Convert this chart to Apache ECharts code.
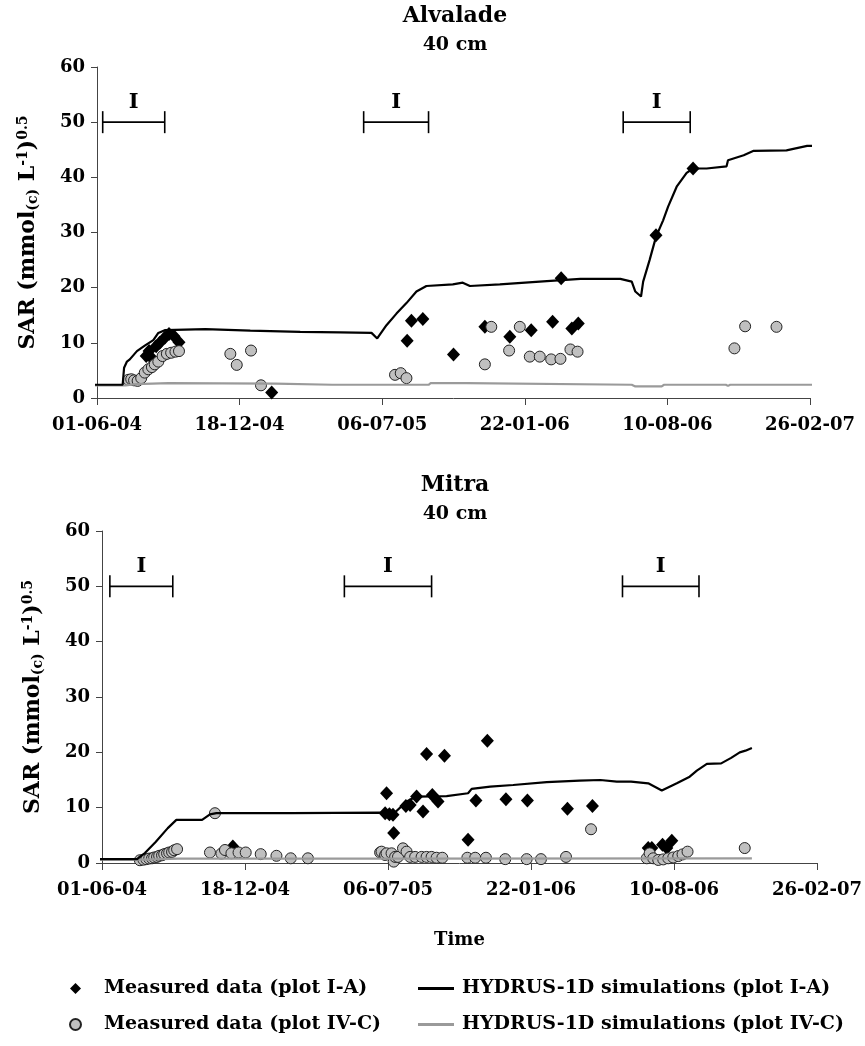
<!DOCTYPE html>
<html>
<head>
<meta charset="utf-8">
<script src="https://cdn.jsdelivr.net/npm/echarts@6/dist/echarts.min.js"></script>
<style>
  html, body { margin: 0; padding: 0; background: #fff; }
  #chart { width: 865px; height: 1046px; }
</style>
</head>
<body>
<div id="chart"></div>
<script>
// x ticks every 200 days starting on 01-06-04
var xTicks = { start: '2004-06-01', step: 200, count: 5 };
var yTicks = { min: 0, max: 60, step: 10 };

// ---- Alvalade, 40 cm ----
var alvSimA = [
  ['2004-05-22', 2.4], ['2004-07-07', 2.4], ['2004-07-09', 5.5], ['2004-07-13', 6.6], ['2004-07-17', 7.0],
  ['2004-07-27', 8.5], ['2004-08-07', 9.5], ['2004-08-19', 10.5], ['2004-08-26', 11.8], ['2004-09-04', 12.3],
  ['2004-10-31', 12.5], ['2005-01-02', 12.2], ['2005-03-13', 12.0], ['2005-05-08', 11.9], ['2005-06-21', 11.8],
  ['2005-06-29', 10.8], ['2005-07-12', 13.2], ['2005-07-26', 15.3], ['2005-08-09', 17.2], ['2005-08-23', 19.3],
  ['2005-09-06', 20.3], ['2005-10-13', 20.6], ['2005-10-27', 20.9], ['2005-11-06', 20.3], ['2005-12-18', 20.6],
  ['2006-02-22', 21.2], ['2006-04-10', 21.6], ['2006-06-05', 21.6], ['2006-06-21', 21.1], ['2006-06-26', 19.3],
  ['2006-07-04', 18.4], ['2006-07-07', 21.1], ['2006-07-16', 25.0], ['2006-07-25', 29.2], ['2006-08-04', 32.2],
  ['2006-08-11', 34.7], ['2006-08-23', 38.3], ['2006-09-06', 40.8], ['2006-09-15', 41.6], ['2006-10-04', 41.6],
  ['2006-11-01', 42.0], ['2006-11-03', 43.1], ['2006-11-25', 44.0], ['2006-12-09', 44.8], ['2007-01-24', 44.9],
  ['2007-02-22', 45.7], ['2007-03-08', 45.7]
];
var alvSimC = [
  ['2004-05-22', 2.3], ['2004-07-11', 2.3], ['2004-07-26', 2.5], ['2004-09-09', 2.7], ['2005-02-06', 2.6],
  ['2005-04-27', 2.4], ['2005-09-09', 2.4], ['2005-09-12', 2.7], ['2005-11-01', 2.7], ['2005-11-03', 2.4],
  ['2006-06-21', 2.4], ['2006-06-26', 2.1], ['2006-08-02', 2.1], ['2006-08-05', 2.4], ['2006-10-31', 2.4],
  ['2006-11-03', 2.2], ['2006-11-06', 2.4], ['2007-03-08', 2.4]
];
var alvMeasA = [
  ['2004-08-09', 7.6], ['2004-08-13', 8.5], ['2004-08-17', 7.2], ['2004-08-23', 9.4], ['2004-08-28', 10.0],
  ['2004-09-04', 10.9], ['2004-09-10', 11.6], ['2004-09-17', 11.2], ['2004-09-24', 10.1], ['2005-02-01', 1.0],
  ['2005-08-10', 10.4], ['2005-08-16', 14.0], ['2005-09-01', 14.3], ['2005-10-14', 7.9], ['2005-11-27', 12.9],
  ['2006-01-01', 11.1], ['2006-01-31', 12.3], ['2006-03-02', 13.8], ['2006-03-14', 21.7], ['2006-03-29', 12.6],
  ['2006-04-07', 13.5], ['2006-07-25', 29.5], ['2006-09-15', 41.6]
];
var alvMeasC = [
  ['2004-07-15', 3.3], ['2004-07-19', 3.4], ['2004-07-23', 3.2], ['2004-07-28', 3.1], ['2004-08-02', 3.6],
  ['2004-08-07', 4.6], ['2004-08-12', 5.2], ['2004-08-17', 5.6], ['2004-08-21', 6.1], ['2004-08-26', 6.6],
  ['2004-09-01', 7.6], ['2004-09-07', 8.0], ['2004-09-13', 8.2], ['2004-09-19', 8.4], ['2004-09-24', 8.5],
  ['2004-12-05', 8.0], ['2004-12-14', 6.0], ['2005-01-03', 8.6], ['2005-01-17', 2.3], ['2005-07-24', 4.2],
  ['2005-08-01', 4.5], ['2005-08-09', 3.6], ['2005-11-27', 6.1], ['2005-12-06', 12.9], ['2005-12-31', 8.6],
  ['2006-01-15', 12.9], ['2006-01-29', 7.5], ['2006-02-12', 7.5], ['2006-02-28', 7.0], ['2006-03-13', 7.1],
  ['2006-03-27', 8.8], ['2006-04-06', 8.4], ['2006-11-12', 9.0], ['2006-11-27', 13.0], ['2007-01-10', 12.9]
];
var alvIrrig = [['2004-06-09', '2004-09-04'], ['2005-06-10', '2005-09-09'], ['2006-06-09', '2006-09-11']];

// ---- Mitra, 40 cm ----
var mitSimA = [
  ['2004-05-12', 0.7], ['2004-07-20', 0.7], ['2004-07-31', 1.8], ['2004-08-15', 3.8], ['2004-09-01', 6.3],
  ['2004-09-13', 7.8], ['2004-10-19', 7.8], ['2004-10-30', 8.8], ['2004-11-08', 9.0], ['2005-02-21', 9.0],
  ['2005-06-25', 9.1], ['2005-07-13', 8.8], ['2005-08-01', 11.1], ['2005-08-15', 12.0], ['2005-09-26', 12.1],
  ['2005-10-26', 12.6], ['2005-10-31', 13.4], ['2005-11-26', 13.8], ['2005-12-28', 14.1], ['2006-02-13', 14.6],
  ['2006-03-31', 14.9], ['2006-04-29', 15.0], ['2006-05-22', 14.7], ['2006-06-11', 14.7], ['2006-07-05', 14.4],
  ['2006-07-24', 13.1], ['2006-08-14', 14.4], ['2006-09-01', 15.6], ['2006-09-11', 16.7], ['2006-09-25', 17.9],
  ['2006-10-15', 18.0], ['2006-10-29', 19.0], ['2006-11-10', 20.0], ['2006-11-18', 20.3], ['2006-11-27', 20.8]
];
var mitSimC = [
  ['2004-05-12', 0.6], ['2004-07-30', 0.6], ['2004-09-15', 0.8], ['2005-07-01', 0.8], ['2006-11-27', 0.85]
];
var mitMeasA = [
  ['2004-12-01', 3.0], ['2005-07-02', 9.0], ['2005-07-04', 12.6], ['2005-07-08', 8.8], ['2005-07-13', 8.7],
  ['2005-07-14', 5.4], ['2005-07-31', 10.3], ['2005-08-06', 10.5], ['2005-08-15', 12.0], ['2005-08-24', 9.3],
  ['2005-08-29', 19.7], ['2005-09-06', 12.3], ['2005-09-14', 11.1], ['2005-09-23', 19.4], ['2005-10-26', 4.2],
  ['2005-11-06', 11.3], ['2005-11-22', 22.1], ['2005-12-18', 11.5], ['2006-01-17', 11.3], ['2006-03-14', 9.8],
  ['2006-04-18', 10.3], ['2006-07-05', 2.7], ['2006-07-10', 2.7], ['2006-07-25', 3.3], ['2006-07-31', 2.7],
  ['2006-08-07', 4.0]
];
var mitMeasC = [
  ['2004-07-24', 0.5], ['2004-07-29', 0.6], ['2004-08-02', 0.7], ['2004-08-06', 0.8], ['2004-08-10', 0.85],
  ['2004-08-13', 1.0], ['2004-08-17', 1.1], ['2004-08-20', 1.3], ['2004-08-24', 1.4], ['2004-08-27', 1.6],
  ['2004-08-31', 1.75], ['2004-09-03', 1.9], ['2004-09-07', 2.0], ['2004-09-10', 2.3], ['2004-09-14', 2.5],
  ['2004-10-30', 1.9], ['2004-11-06', 9.0], ['2004-11-15', 1.7], ['2004-11-20', 2.35], ['2004-11-29', 1.75],
  ['2004-12-09', 1.9], ['2004-12-19', 1.9], ['2005-01-09', 1.6], ['2005-01-31', 1.3], ['2005-02-20', 0.85],
  ['2005-03-16', 0.85], ['2005-06-25', 1.9], ['2005-06-27', 2.05], ['2005-07-02', 1.45], ['2005-07-04', 1.75],
  ['2005-07-11', 1.75], ['2005-07-14', 0.25], ['2005-07-16', 1.1], ['2005-07-20', 1.1], ['2005-07-27', 2.65],
  ['2005-08-01', 2.05], ['2005-08-06', 1.1], ['2005-08-13', 1.1], ['2005-08-22', 1.1], ['2005-08-29', 1.1],
  ['2005-09-05', 1.1], ['2005-09-12', 0.95], ['2005-09-20', 0.95], ['2005-10-25', 0.95], ['2005-11-05', 0.95],
  ['2005-11-20', 0.95], ['2005-12-17', 0.7], ['2006-01-16', 0.7], ['2006-02-05', 0.7], ['2006-03-12', 1.1],
  ['2006-04-16', 6.1], ['2006-07-03', 0.85], ['2006-07-07', 1.75], ['2006-07-12', 0.85], ['2006-07-19', 0.55],
  ['2006-07-26', 0.65], ['2006-08-02', 0.85], ['2006-08-09', 1.0], ['2006-08-16', 1.25], ['2006-08-22', 1.55],
  ['2006-08-29', 2.05], ['2006-11-17', 2.7]
];
var mitIrrig = [['2004-06-12', '2004-09-08'], ['2005-05-06', '2005-09-05'], ['2006-05-30', '2006-09-14']];
var irrigLevel = 50;

var NAME_MA = 'Measured data (plot I-A)';
var NAME_MC = 'Measured data (plot IV-C)';
var NAME_SA = 'HYDRUS-1D simulations (plot I-A)';
var NAME_SC = 'HYDRUS-1D simulations (plot IV-C)';

var FONT = '"DejaVu Serif", "Liberation Serif", serif';
var BASE = Date.UTC(2004, 5, 1);

function toDay(s) {
  var p = s.split('-');
  return (Date.UTC(+p[0], +p[1] - 1, +p[2]) - BASE) / 86400000;
}
function pad(n) { return (n < 10 ? '0' : '') + n; }
function dayLabel(v) {
  var d = new Date(BASE + v * 86400000);
  return pad(d.getUTCDate()) + '-' + pad(d.getUTCMonth() + 1) + '-' + pad(d.getUTCFullYear() % 100);
}
function pts(arr) {
  return arr.map(function (p) { return [toDay(p[0]), p[1]]; });
}

function panelSeries(idx, simA, simC, measA, measC, irrig) {
  var out = [];
  // irrigation season brackets
  irrig.forEach(function (r) {
    out.push({
      type: 'line', xAxisIndex: idx, yAxisIndex: idx, silent: true,
      data: [[toDay(r[0]), irrigLevel], [toDay(r[1]), irrigLevel]],
      symbol: 'rect', symbolSize: [1.6, 22], showSymbol: true,
      itemStyle: { color: '#000', opacity: 1 }, lineStyle: { color: '#000', width: 1.6 }
    });
  });
  out.push({
    type: 'scatter', xAxisIndex: idx, yAxisIndex: idx, silent: true,
    data: irrig.map(function (r) { return [(toDay(r[0]) + toDay(r[1])) / 2, irrigLevel]; }),
    symbolSize: 1, itemStyle: { color: '#fff', opacity: 1 },
    label: {
      show: true, position: 'top', distance: 9, formatter: 'I',
      fontFamily: FONT, fontWeight: 'bold', fontSize: 21, color: '#000'
    }
  });
  out.push({
    name: NAME_SC, type: 'line', xAxisIndex: idx, yAxisIndex: idx, clip: false,
    data: pts(simC), symbol: 'none', itemStyle: { color: '#9a9a9a' },
    lineStyle: { color: '#9a9a9a', width: 2.2 }
  });
  out.push({
    name: NAME_SA, type: 'line', xAxisIndex: idx, yAxisIndex: idx, clip: false,
    data: pts(simA), symbol: 'none', itemStyle: { color: '#000' },
    lineStyle: { color: '#000', width: 2.2 }
  });
  out.push({
    name: NAME_MA, type: 'scatter', xAxisIndex: idx, yAxisIndex: idx,
    data: pts(measA), symbol: 'diamond', symbolSize: [13, 14],
    itemStyle: { color: '#000', opacity: 1 }
  });
  out.push({
    name: NAME_MC, type: 'scatter', xAxisIndex: idx, yAxisIndex: idx,
    data: pts(measC), symbol: 'circle', symbolSize: 11,
    itemStyle: { color: '#c0c0c0', borderColor: '#222', borderWidth: 1, opacity: 1 }
  });
  return out;
}

var axisText = { fontFamily: FONT, fontWeight: 'bold', fontSize: 18, color: '#000' };

function xAxisFor(idx, withName) {
  var a = {
    type: 'value', gridIndex: idx,
    min: 0, max: xTicks.step * xTicks.count, interval: xTicks.step,
    splitLine: { show: false },
    axisLine: { onZero: false, lineStyle: { color: '#444', width: 1 } },
    axisTick: { show: true, inside: false, length: 7, lineStyle: { color: '#444' } },
    axisLabel: Object.assign({ margin: 18, formatter: dayLabel, showMaxLabel: true, showMinLabel: true }, axisText)
  };
  if (withName) {
    a.name = 'Time';
    a.nameLocation = 'middle';
    a.nameGap = 68;
    a.nameTextStyle = axisText;
  }
  return a;
}
function yAxisFor(idx) {
  return {
    type: 'value', gridIndex: idx,
    min: yTicks.min, max: yTicks.max, interval: yTicks.step,
    splitLine: { show: false },
    axisLine: { show: true, lineStyle: { color: '#444', width: 1 } },
    axisTick: { show: true, inside: false, length: 6, lineStyle: { color: '#444' } },
    axisLabel: Object.assign({ margin: 12 }, axisText),
    name: 'SAR (mmol{sub|(c)} L{sup|-1}){sup|0.5}',
    nameLocation: 'middle', nameRotate: 90, nameGap: 56,
    nameTextStyle: Object.assign({}, axisText, {
      fontSize: 22,
      lineHeight: 26,
      rich: {
        sub: { fontFamily: FONT, fontWeight: 'bold', fontSize: 14, color: '#000', lineHeight: 16, padding: [10, 0, 0, 0] },
        sup: { fontFamily: FONT, fontWeight: 'bold', fontSize: 14, color: '#000', lineHeight: 16, padding: [0, 0, 10, 0] }
      }
    })
  };
}

function titleText(text, x, y, size) {
  return {
    type: 'text', x: x, y: y, silent: true,
    style: {
      text: text, fill: '#000', font: 'bold ' + size + 'px ' + FONT,
      textAlign: 'center', textVerticalAlign: 'middle', align: 'center', verticalAlign: 'middle'
    }
  };
}

var legendText = { fontFamily: FONT, fontWeight: 'bold', fontSize: 19, color: '#000' };

var chart = echarts.init(document.getElementById('chart'), null, { renderer: 'canvas' });
chart.setOption({
  animation: false,
  backgroundColor: '#fff',
  graphic: [
    titleText('Alvalade', 455, 16, 22),
    titleText('40 cm', 455, 45, 19),
    titleText('Mitra', 455, 485, 22),
    titleText('40 cm', 455, 514, 19)
  ],
  grid: [
    { left: 97, top: 67, width: 713, height: 331 },
    { left: 102, top: 531, width: 717, height: 332 }
  ],
  xAxis: [xAxisFor(0, false), xAxisFor(1, true)],
  yAxis: [yAxisFor(0), yAxisFor(1)],
  legend: [
    {
      data: [NAME_MA, NAME_MC], orient: 'vertical', left: 64, top: 974,
      itemWidth: 11, itemHeight: 11, itemGap: 17,
      textStyle: Object.assign({ padding: [0, 0, 0, 18] }, legendText), selectedMode: false
    },
    {
      data: [{ name: NAME_SA, icon: 'rect' }, { name: NAME_SC, icon: 'rect' }],
      orient: 'vertical', left: 413, top: 974,
      itemWidth: 36, itemHeight: 3, itemGap: 17,
      textStyle: Object.assign({ padding: [0, 0, 0, 3] }, legendText), selectedMode: false
    }
  ],
  series: panelSeries(0, alvSimA, alvSimC, alvMeasA, alvMeasC, alvIrrig)
    .concat(panelSeries(1, mitSimA, mitSimC, mitMeasA, mitMeasC, mitIrrig))
});
</script>
</body>
</html>
